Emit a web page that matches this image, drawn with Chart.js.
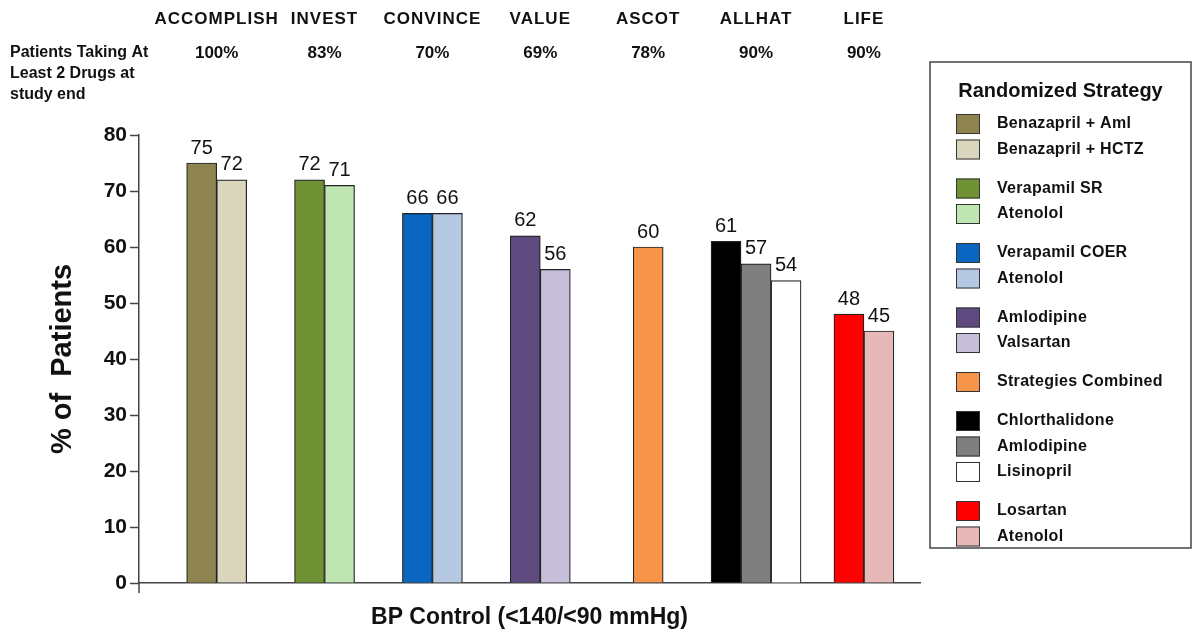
<!DOCTYPE html>
<html>
<head>
<meta charset="utf-8">
<script src="https://cdn.jsdelivr.net/npm/chart.js@4.4.1/dist/chart.umd.min.js"></script>
<style>
  html, body { margin: 0; padding: 0; background: #fff; }
  canvas { display: block; }
</style>
</head>
<body>
<canvas id="bp" width="1195" height="635"></canvas>
<script>
// Trials, and the share of patients on at least two drugs at study end
const studies = ['ACCOMPLISH', 'INVEST', 'CONVINCE', 'VALUE', 'ASCOT', 'ALLHAT', 'LIFE'];
const twoDrugShare = ['100%', '83%', '70%', '69%', '78%', '90%', '90%'];

// Randomized arms: name, trial they belong to, % of patients at BP goal
const armNames = [
  'Benazapril + Aml', 'Benazapril + HCTZ',
  'Verapamil SR', 'Atenolol',
  'Verapamil COER', 'Atenolol',
  'Amlodipine', 'Valsartan',
  'Strategies Combined',
  'Chlorthalidone', 'Amlodipine', 'Lisinopril',
  'Losartan', 'Atenolol'
];
const armStudy = [0, 0, 1, 1, 2, 2, 3, 3, 4, 5, 5, 5, 6, 6];
const armValues = [75, 72, 72, 71, 66, 66, 62, 56, 60, 61, 57, 54, 48, 45];

const yTicks = [0, 10, 20, 30, 40, 50, 60, 70, 80];

// Fill colours, one per arm
const armColors = [
  '#8e844f', '#d9d6bd',
  '#719234', '#bfe6b2',
  '#0a66c0', '#b5c9e3',
  '#5f4a80', '#c7bed9',
  '#f6944a',
  '#000000', '#7f7f7f', '#ffffff',
  '#ff0000', '#e6b9b8'
];

const FONT = "'Liberation Sans', Arial, Helvetica, sans-serif";

const datasets = armNames.map((name, k) => ({
  label: name,
  data: studies.map((s, i) => ({ x: i, y: i === armStudy[k] ? armValues[k] : null })),
  backgroundColor: armColors[k],
  borderColor: '#222',
  borderWidth: 1.2,
  barThickness: 30,
  skipNull: true
}));

// Value printed above each bar
const valueLabels = {
  id: 'valueLabels',
  afterDatasetsDraw(chart) {
    const ctx = chart.ctx;
    ctx.save();
    ctx.font = '20px ' + FONT;
    ctx.fillStyle = '#111';
    ctx.textAlign = 'center';
    ctx.textBaseline = 'bottom';
    chart.data.datasets.forEach((ds, k) => {
      const meta = chart.getDatasetMeta(k);
      meta.data.forEach((el, i) => {
        const v = ds.data[i].y;
        if (v === null || v === undefined) return;
        ctx.fillText(String(v), el.x, el.y - 5);
      });
    });
    ctx.restore();
  }
};

// Trial headers, the two-drug row, the axis stub and the boxed legend
const decorations = {
  id: 'decorations',
  afterDraw(chart) {
    const ctx = chart.ctx;
    const xs = chart.scales.x;
    const area = chart.chartArea;
    ctx.save();

    // y axis runs a little past the x axis
    ctx.strokeStyle = '#444';
    ctx.lineWidth = 1.5;
    ctx.beginPath();
    ctx.moveTo(area.left, area.bottom);
    ctx.lineTo(area.left, area.bottom + 10);
    ctx.stroke();

    // trial names and two-drug percentages
    ctx.fillStyle = '#111';
    ctx.textAlign = 'center';
    ctx.textBaseline = 'middle';
    studies.forEach((s, i) => {
      const cx = xs.getPixelForValue(i);
      ctx.font = 'bold 17px ' + FONT;
      ctx.letterSpacing = '1px';
      ctx.fillText(s, cx, 19);
      ctx.letterSpacing = '0px';
      ctx.fillText(twoDrugShare[i], cx, 53);
    });
    ctx.textAlign = 'left';
    ctx.font = 'bold 16px ' + FONT;
    ['Patients Taking At', 'Least 2 Drugs at', 'study end'].forEach((line, j) => {
      ctx.fillText(line, 10, 53 + j * 21);
    });

    // legend
    const box = { left: 930, top: 62, right: 1191, bottom: 548 };
    ctx.strokeStyle = '#444';
    ctx.lineWidth = 1.5;
    ctx.strokeRect(box.left, box.top, box.right - box.left, box.bottom - box.top);
    ctx.textAlign = 'center';
    ctx.font = 'bold 20px ' + FONT;
    ctx.fillStyle = '#111';
    ctx.fillText('Randomized Strategy', (box.left + box.right) / 2, 91);

    ctx.textAlign = 'left';
    ctx.font = 'bold 16px ' + FONT;
    ctx.letterSpacing = '0.3px';
    let y = 124;
    armNames.forEach((name, k) => {
      if (k > 0) {
        y += 25.5;
        if (armStudy[k] !== armStudy[k - 1]) y += 13.5;
      }
      ctx.fillStyle = armColors[k];
      ctx.fillRect(956, y - 10, 24, 20);
      ctx.strokeStyle = '#333';
      ctx.lineWidth = 1;
      ctx.strokeRect(956.5, y - 9.5, 23, 19);
      ctx.fillStyle = '#111';
      ctx.fillText(name, 997, y);
    });
    ctx.letterSpacing = '0px';
    ctx.restore();
  }
};

new Chart(document.getElementById('bp'), {
  type: 'bar',
  data: { datasets },
  plugins: [valueLabels, decorations],
  options: {
    responsive: false,
    animation: false,
    devicePixelRatio: 1,
    layout: { padding: { left: 46, right: 275, top: 135, bottom: 0 } },
    plugins: { legend: { display: false }, tooltip: { enabled: false } },
    scales: {
      x: {
        type: 'linear',
        offset: false,
        min: -0.72,
        max: 6.52,
        ticks: { display: false },
        grid: { display: false, offset: false },
        border: { display: true, color: '#444', width: 1.5 },
        title: {
          display: true,
          text: 'BP Control (<140/<90 mmHg)',
          color: '#111',
          font: { family: FONT, size: 23, weight: 'bold' },
          padding: { top: 0, bottom: 4 }
        },
        afterFit(scale) { scale.height = 52; }
      },
      y: {
        min: 0,
        max: 80,
        afterBuildTicks(scale) { scale.ticks = yTicks.map(v => ({ value: v })); },
        ticks: {
          color: '#111',
          padding: 3,
          font: { family: FONT, size: 21, weight: 'bold' }
        },
        grid: { drawOnChartArea: false, drawTicks: true, tickLength: 9, tickColor: '#444', tickWidth: 1.5 },
        border: { display: true, color: '#444', width: 1.5 },
        title: {
          display: true,
          text: '% of  Patients',
          color: '#111',
          font: { family: FONT, size: 29, weight: 'bold' },
          padding: 0
        },
        afterFit(scale) { scale.width = 93; }
      }
    }
  }
});
</script>
</body>
</html>
